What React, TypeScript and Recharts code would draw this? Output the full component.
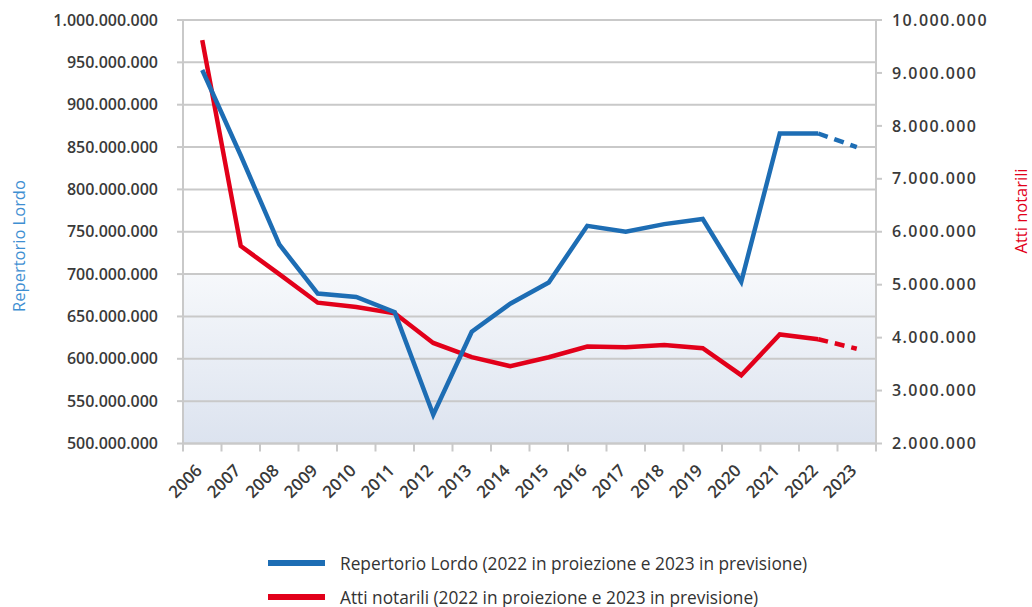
import React from 'react';
import { LineChart, Line, XAxis, YAxis, CartesianGrid } from 'recharts';

// Years on the category axis
const years = ['2006', '2007', '2008', '2009', '2010', '2011', '2012', '2013', '2014', '2015', '2016', '2017', '2018', '2019', '2020', '2021', '2022', '2023'];

// Repertorio Lordo (euro), left axis
const repertorioLordo = [941000000, 840000000, 735000000, 677000000, 673000000, 655000000, 534000000, 632000000, 665000000, 690000000, 757000000, 750000000, 759000000, 765000000, 691000000, 866000000, 866000000, 850000000];

// Atti notarili (count), right axis
const attiNotarili = [9620000, 5730000, 5200000, 4660000, 4580000, 4460000, 3900000, 3630000, 3460000, 3630000, 3830000, 3820000, 3860000, 3800000, 3290000, 4060000, 3970000, 3790000];

// Tick values
const leftTicks = [500000000, 550000000, 600000000, 650000000, 700000000, 750000000, 800000000, 850000000, 900000000, 950000000, 1000000000];
const rightTicks = [2000000, 3000000, 4000000, 5000000, 6000000, 7000000, 8000000, 9000000, 10000000];

// 2022 is a projection and 2023 a forecast: the segment between them is dashed
const projectionYear = '2022';

const BLUE = '#1d6db4';
const RED = '#e2001a';
const TEXT = '#3a3a3a';
const GRID = '#c9c9c9';
const FONT = "'Open Sans', sans-serif";

const CHART_W = 1032;
const CHART_H = 530;
const LEFT_W = 183;
const RIGHT_W = 156;
const BAND = (CHART_W - LEFT_W - RIGHT_W) / years.length;

const projIdx = years.indexOf(projectionYear);
const data = years.map((year, i) => ({
  year,
  rep: i <= projIdx ? repertorioLordo[i] : null,
  repFc: i >= projIdx ? repertorioLordo[i] : null,
  atti: i <= projIdx ? attiNotarili[i] : null,
  attiFc: i >= projIdx ? attiNotarili[i] : null,
}));

const fmt = (v: number) => String(Math.round(v)).replace(/\B(?=(\d{3})+(?!\d))/g, '.');

const YearTick = (props: any) => {
  const { x, y, payload, index } = props;
  const left = x - BAND / 2;
  const tx = x + 1;
  const ty = y + 20;
  return (
    <g>
      <line x1={left} y1={y - 8} x2={left} y2={y} stroke={GRID} strokeWidth={2} />
      {index === years.length - 1 && (
        <line x1={x + BAND / 2} y1={y - 8} x2={x + BAND / 2} y2={y} stroke={GRID} strokeWidth={2} />
      )}
      <text
        x={tx}
        y={ty}
        textAnchor="end"
        transform={`rotate(-45, ${tx}, ${ty})`}
        fill={TEXT}
        fontSize={17}
        fontWeight={600}
        fontFamily={FONT}
      >
        {payload.value}
      </text>
    </g>
  );
};

export default function App() {
  return (
    <div style={{ position: 'absolute', left: 0, top: 0, width: 1032, height: 607, background: '#fff', fontFamily: FONT }}>
      <LineChart width={CHART_W} height={CHART_H} data={data} margin={{ top: 20, right: 0, bottom: 0, left: 0 }}>
        <defs>
          <linearGradient id="lowerBand" x1="0" y1="0" x2="0" y2="1">
            <stop offset="0" stopColor="#ffffff" />
            <stop offset="0.6" stopColor="#ffffff" />
            <stop offset="0.6" stopColor="#f6f8fb" />
            <stop offset="1" stopColor="#dce3ef" />
          </linearGradient>
        </defs>
        <CartesianGrid vertical={false} stroke={GRID} strokeWidth={2} fill="url(#lowerBand)" yAxisId="left" />
        <XAxis
          dataKey="year"
          scale="band"
          interval={0}
          height={CHART_H - 20 - 423.5}
          axisLine={{ stroke: GRID, strokeWidth: 2 }}
          tickLine={false}
          tickSize={8}
          tickMargin={0}
          tick={<YearTick />}
        />
        <YAxis
          yAxisId="left"
          domain={[500000000, 1000000000]}
          ticks={leftTicks}
          width={LEFT_W}
          tickFormatter={fmt}
          axisLine={{ stroke: GRID, strokeWidth: 2 }}
          tickLine={{ stroke: GRID, strokeWidth: 2 }}
          tickSize={6}
          tickMargin={19}
          tick={{ fill: TEXT, fontSize: 16, fontWeight: 600, fontFamily: FONT }}
        />
        <YAxis
          yAxisId="right"
          orientation="right"
          domain={[2000000, 10000000]}
          ticks={rightTicks}
          width={RIGHT_W}
          tickFormatter={fmt}
          axisLine={{ stroke: GRID, strokeWidth: 2 }}
          tickLine={{ stroke: GRID, strokeWidth: 2 }}
          tickSize={6}
          tickMargin={10}
          tick={{ fill: TEXT, fontSize: 16, fontWeight: 600, fontFamily: FONT, letterSpacing: 1.4 }}
        />
        <Line yAxisId="right" dataKey="atti" stroke={RED} strokeWidth={4.5} dot={false} isAnimationActive={false} connectNulls={false} />
        <Line yAxisId="right" dataKey="attiFc" stroke={RED} strokeWidth={4.5} strokeDasharray="10 7" dot={false} isAnimationActive={false} connectNulls={false} />
        <Line yAxisId="left" dataKey="rep" stroke={BLUE} strokeWidth={4.5} dot={false} isAnimationActive={false} connectNulls={false} />
        <Line yAxisId="left" dataKey="repFc" stroke={BLUE} strokeWidth={4.5} strokeDasharray="10 7" dot={false} isAnimationActive={false} connectNulls={false} />
      </LineChart>

      {/* axis titles */}
      <svg width={1032} height={530} style={{ position: 'absolute', left: 0, top: 0, pointerEvents: 'none' }}>
        <text x={18} y={246} transform="rotate(-90, 18, 246)" textAnchor="middle" dominantBaseline="central" fill="#3f8fd2" fontSize={16.5} fontFamily={FONT}>
          Repertorio Lordo
        </text>
        <text x={1020} y={211} transform="rotate(-90, 1020, 211)" textAnchor="middle" dominantBaseline="central" fill={RED} fontSize={16.5} fontFamily={FONT}>
          Atti notarili
        </text>
      </svg>

      {/* legend */}
      <div style={{ position: 'absolute', left: 268, top: 550, color: '#333', fontSize: 17.3 }}>
        <div style={{ display: 'flex', alignItems: 'center', height: 26 }}>
          <span style={{ display: 'inline-block', width: 57, height: 6, background: BLUE, marginRight: 15 }} />
          <span>Repertorio Lordo (2022 in proiezione e 2023 in previsione)</span>
        </div>
        <div style={{ display: 'flex', alignItems: 'center', height: 26, marginTop: 8 }}>
          <span style={{ display: 'inline-block', width: 57, height: 6, background: RED, marginRight: 15 }} />
          <span>Atti notarili (2022 in proiezione e 2023 in previsione)</span>
        </div>
      </div>
    </div>
  );
}
